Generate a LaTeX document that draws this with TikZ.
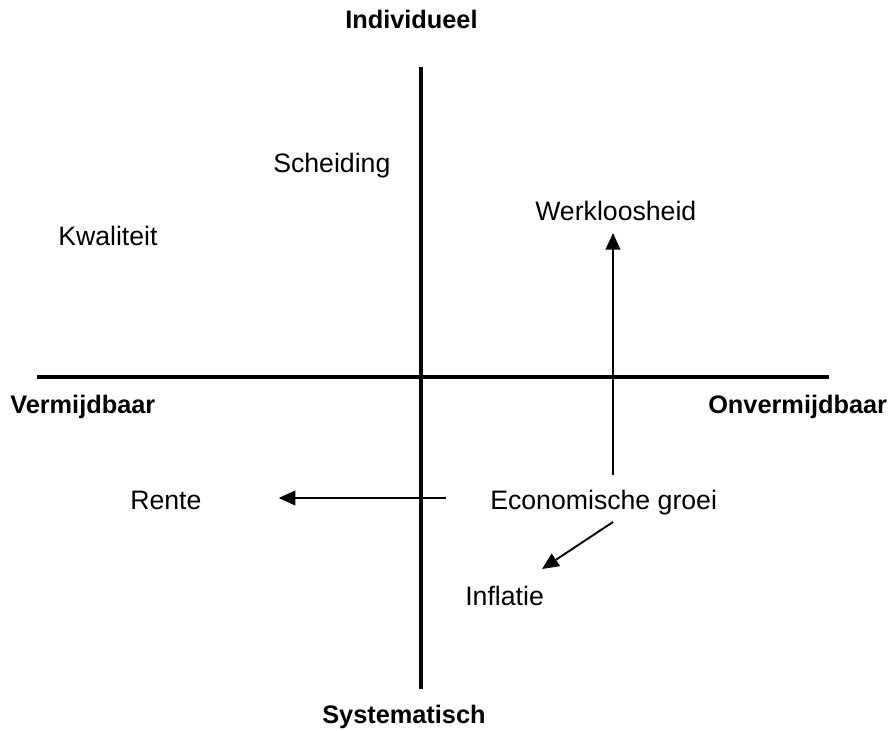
\documentclass[tikz,border=0pt]{standalone}
\usepackage{fontspec}
\setmainfont{Liberation Sans}
\usepackage{tikz}
\usetikzlibrary{arrows.meta,positioning,calc}

\begin{document}
\begin{tikzpicture}[
    x=0.75pt, y=-0.75pt,
    lbl/.style={inner sep=0pt, anchor=base west, font=\fontsize{20}{24}\selectfont},
    pole/.style={inner sep=0pt, anchor=base west, font=\fontsize{19}{23}\selectfont\bfseries},
    axis/.style={line width=2.6pt},
    arrow/.style={line width=1.4pt, -{Triangle[length=12.5pt, width=11pt]}}
]
    \useasboundingbox (0,0) rectangle (893,731);

    % axes
    \coordinate (axn) at (421,67);
    \coordinate (axs) at (421,689);
    \coordinate (axw) at (37,377);
    \coordinate (axe) at (829,377);
    \draw[axis] (axn) -- (axs);
    \draw[axis] (axw) -- (axe);

    % poles
    \node[pole] (indiv) at (345,29) {Individueel};
    \node[pole] (syst) at (322,723) {Systematisch};
    \node[pole] (verm) at (10,413) {Vermijdbaar};
    \node[pole] (onverm) at (708,413) {Onvermijdbaar};

    % risks
    \node[lbl] (scheiding) at (273,173) {Scheiding};
    \node[lbl] (kwaliteit) at (58,246) {Kwaliteit};
    \node[lbl] (werkl) at (535,221) {Werkloosheid};
    \node[lbl] (eco) at (490,509) {Economische groei};
    \node[lbl] (rente) at (130,509) {Rente};
    \node[lbl] (inflatie) at (465,605) {Inflatie};

    \draw[arrow] ([shift={(123,-34)}]eco.base west) -- ([shift={(78,12)}]werkl.base west);
    \draw[arrow] ([shift={(-44,-11)}]eco.base west) -- ([shift={(77,-11)}]rente.base east);
    \draw[arrow] ([shift={(123,13)}]eco.base west) -- ([shift={(77,-36)}]inflatie.base west);
\end{tikzpicture}
\end{document}
